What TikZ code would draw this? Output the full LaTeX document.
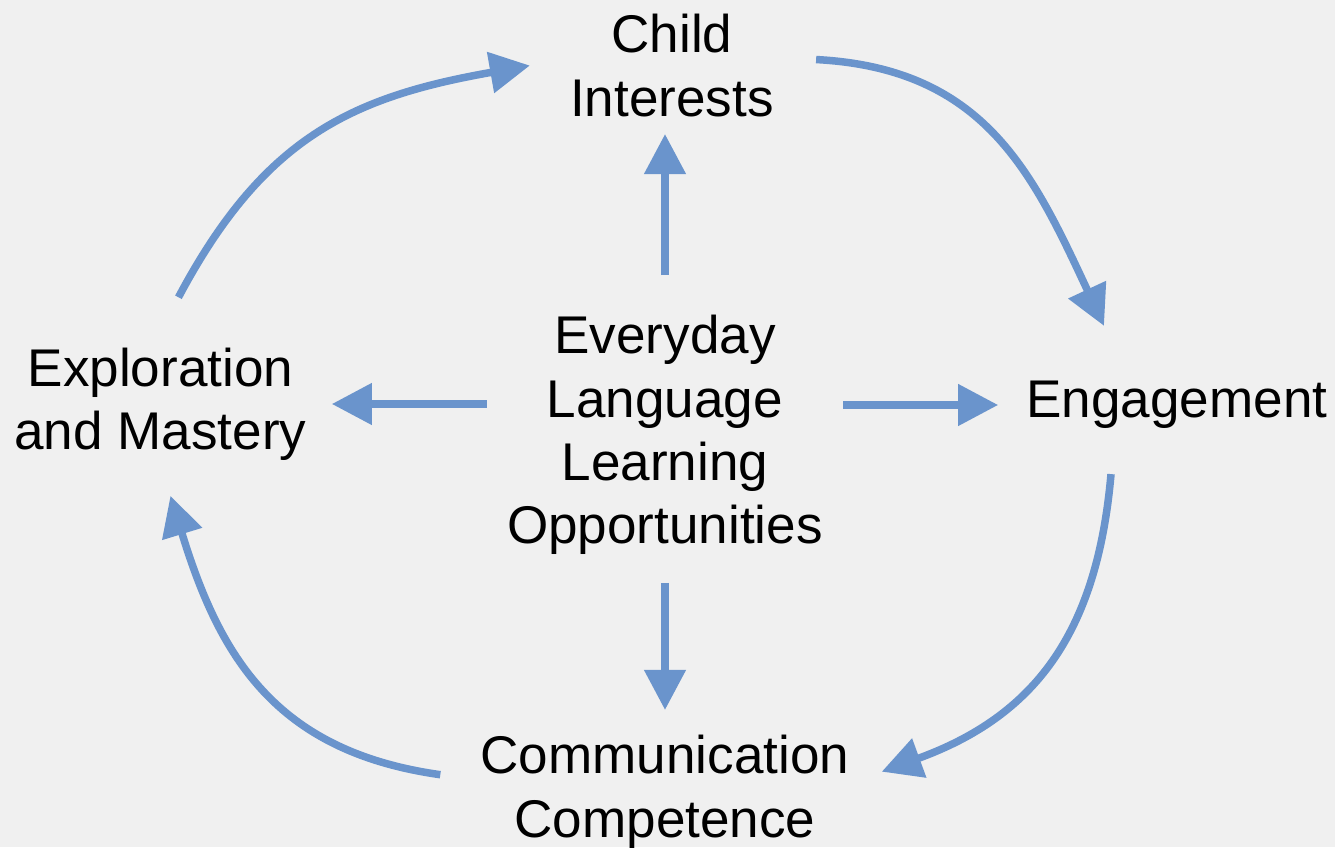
\documentclass[tikz,border=0pt]{standalone}
\usepackage{fontspec}
\setmainfont{Liberation Sans}
\usetikzlibrary{arrows.meta,positioning}
\definecolor{loopblue}{HTML}{6A94CC}
\definecolor{paper}{HTML}{F0F0F0}

\begin{document}
\begin{tikzpicture}[
    > = {Triangle[length=0.8cm, width=0.8cm]}, % arrow head style
    cyc/.style = {->, loopblue, line width=0.15cm}, % blue arrows
    every node/.style = {font=\fontsize{30.2pt}{36pt}\selectfont,
                         align=center, inner sep=0pt}
    ]

    % background
    \fill[paper] (0,0) rectangle (26.7,16.94);
    \useasboundingbox (0,0) rectangle (26.7,16.94);

    \node (centre) at (13.3,8.24) {Everyday\\Language\\Learning\\Opportunities};
    \node (child) [above=3.96cm of centre, xshift=0.14cm] {Child\\Interests};
    \node (comm) [below=3.6cm of centre] {Communication\\Competence};
    \node (engage) [right=4.06cm of centre, yshift=0.6cm] {Engagement};
    \node (explore) [left=4.0cm of centre, yshift=0.62cm] {Exploration\\and Mastery};

    % straight arrows out of the centre
    \path (centre.north) edge[cyc, shorten <=0.8cm, shorten >=0.34cm] (centre.north |- child.south);
    \path (centre.south) edge[cyc, shorten <=0.56cm, shorten >=0.5cm] (centre.south |- comm.north);
    \path (centre.west |- explore.east) edge[cyc, shorten <=0.4cm, shorten >=0.5cm] (explore.east);
    \path (centre.east |- engage.west) edge[cyc, shorten <=0.4cm, shorten >=0.56cm] (engage.west);

    % the outer cycle
    \path ([shift={(0.36cm,1cm)}]explore.north) edge[cyc, out=62, in=190, looseness=1.1] ([xshift=-0.8cm]child.west);
    \path ([shift={(0.84cm,0.12cm)}]child.east) edge[cyc, out=-3, in=115, looseness=1.1] ([shift={(-1.46cm,1.1cm)}]engage.north);
    \path ([shift={(-1.32cm,-0.9cm)}]engage.south) edge[cyc, out=-95, in=20, looseness=1.1] ([shift={(0.64cm,0.4cm)}]comm.east);
    \path ([shift={(-0.8cm,0.34cm)}]comm.west) edge[cyc, out=172, in=-73, looseness=1.1] ([shift={(0.2cm,-0.7cm)}]explore.south);
\end{tikzpicture}
\end{document}
